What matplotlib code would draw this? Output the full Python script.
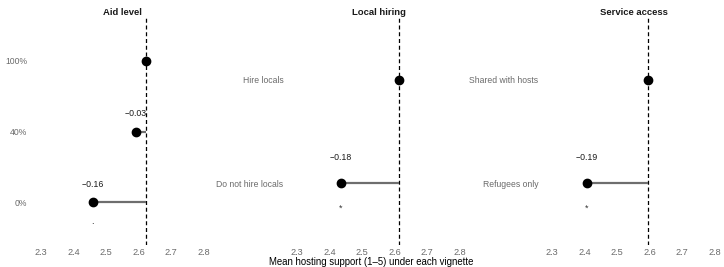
import numpy as np
import matplotlib
matplotlib.use("Agg")
import matplotlib.pyplot as plt

plt.rcParams['font.family'] = ['Liberation Sans', 'DejaVu Sans']

# facet titles
factors = ["Aid level", "Local hiring", "Service access"]

# levels (bottom to top) and mean support per level
aid_levels = ["0%", "40%", "100%"]
aid_means = [2.459, 2.592, 2.621]
aid_sig = [".", "", ""]

hiring_levels = ["Do not hire locals", "Hire locals"]
hiring_means = [2.435, 2.612]
hiring_sig = ["*", ""]

service_levels = ["Refugees only", "Shared with hosts"]
service_means = [2.406, 2.594]
service_sig = ["*", ""]

x_ticks = [2.3, 2.4, 2.5, 2.6, 2.7, 2.8]

panels = [
    (aid_levels, aid_means, aid_sig),
    (hiring_levels, hiring_means, hiring_sig),
    (service_levels, service_means, service_sig),
]

W, H = 724, 267
fig = plt.figure(figsize=(W / 100, H / 100), dpi=100)

lefts = [33, 289, 544]
pw = 179
top, bottom = 18, 245

for i, (levels, means, sig) in enumerate(panels):
    ax = fig.add_axes([lefts[i] / W, 1 - bottom / H, pw / W, (bottom - top) / H])
    n = len(levels)
    y = np.arange(1, n + 1)
    base = means[-1]
    ax.axvline(base, color="black", lw=0.9, ls=(0, (3.2, 2.2)), zorder=1)
    for yy, m, s in zip(y, means, sig):
        if yy != n:
            ax.plot([m, base], [yy, yy], color="#6e6e6e", lw=1.6, zorder=2,
                    solid_capstyle="butt")
            d = round(m - base, 2)
            ax.text(m, yy + 0.25, f"{d:.2f}".replace("-", "\u2212"),
                    ha="center", va="center", fontsize=6.3, color="#1a1a1a")
            if s:
                off = 0.24 if s == "*" else 0.27
                ax.text(m, yy - off, s, ha="center", va="center",
                        fontsize=6.5, color="#333333")
    ax.plot(means, y, "o", color="black", ms=6, zorder=3)
    ax.set_xlim(2.275, 2.825)
    ax.set_ylim(0.4, n + 0.6)
    ax.set_xticks(x_ticks)
    ax.set_xticklabels([f"{t:.1f}" for t in x_ticks])
    ax.set_yticks(y)
    ax.set_yticklabels(levels)
    ax.tick_params(length=0, labelsize=6.2, labelcolor="#6a6a6a")
    ax.tick_params(axis="x", pad=2.5, labelsize=6.6)
    ax.tick_params(axis="y", pad=4)
    for sp in ax.spines.values():
        sp.set_visible(False)
    ax.set_facecolor("none")
    ax.set_title(factors[i], fontsize=6.8, fontweight="bold", pad=2.5,
                 color="#1a1a1a")

fig.text(371 / W, 1 - 262 / H, "Mean hosting support (1\u20135) under each vignette",
         ha="center", va="center", fontsize=6.9, color="black")

fig.savefig("out.png", dpi=100)
